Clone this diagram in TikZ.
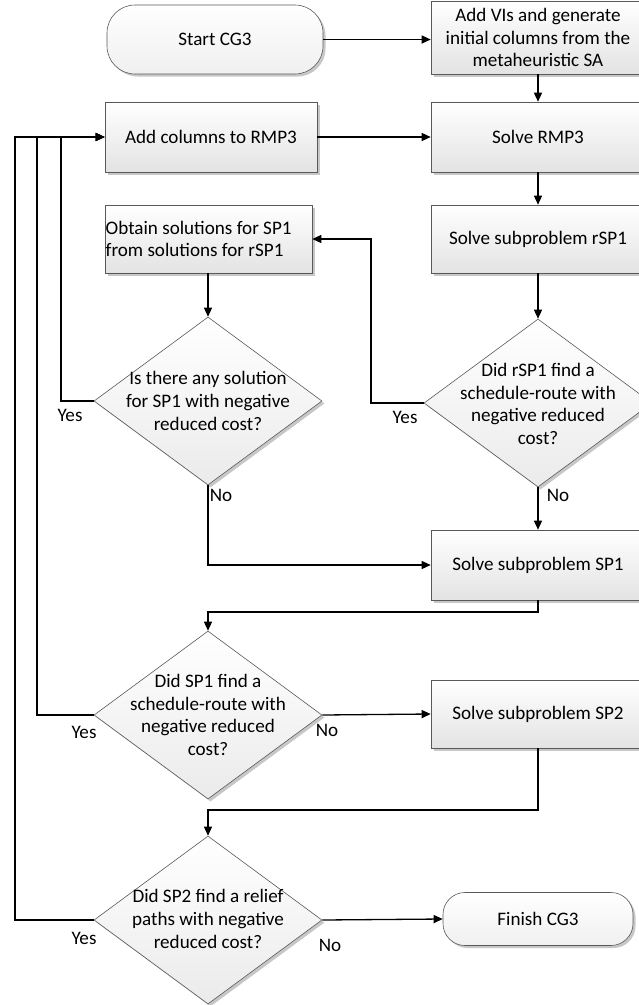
\documentclass[tikz,border=0pt]{standalone}
\usepackage{fontspec}
\setmainfont{Carlito}
\usetikzlibrary{shapes.geometric,arrows.meta,shadows}
\begin{document}
\begin{tikzpicture}[x=1pt,y=-1pt,
  font=\fontsize{19.1}{22.7}\selectfont,
  boxbase/.style={draw=black!65, line width=0.6pt, top color=white, bottom color=black!11,
    drop shadow={shadow xshift=2.5pt,shadow yshift=-2.5pt,opacity=0.22,fill=black}},
  proc/.style={boxbase, minimum width=214pt, minimum height=70pt, align=center, inner sep=1pt},
  term/.style={boxbase, top color=white, bottom color=black!6, minimum width=216pt, minimum height=69pt, rounded corners=28pt, align=center},
  dec/.style={diamond, boxbase, top color=white, bottom color=black!8, minimum width=228pt, minimum height=168pt, inner sep=0pt},
  lbl/.style={align=center, inner sep=0pt},
  arr/.style={line width=1.3pt, -{Triangle[length=9pt,width=8pt]}},
  yn/.style={inner sep=0pt}]
\useasboundingbox (0,0) rectangle (639,1005);
\clip (0,0) rectangle (639,1005);

\node[term] (start) at (215,39.5) {Start CG3};
\node[proc, minimum height=73pt] (addvi) at (538,37.5) {Add VIs and generate\\initial columns from the\\metaheuristic SA};
\node[proc, minimum width=212pt] (addcol) at (211,137) {Add columns to RMP3};
\node[proc] (rmp) at (538,137) {Solve RMP3};
\node[proc, minimum width=207pt, minimum height=68pt] (obtain) at (208.5,239) {};
\node[lbl, anchor=west, align=left] (obtaint) at (105.5,239) {Obtain solutions for SP1\\from solutions for rSP1};
\node[proc, minimum height=68pt] (rsp1) at (538,239) {Solve subproblem rSP1};

\node[dec] (d1) at (208,401) {};
\node[lbl] (d1t) at (208,401) {Is there any solution\\for SP1 with negative\\reduced cost?};
\node[dec] (d2) at (538,403) {};
\node[lbl] (d2t) at (538,404) {Did rSP1 find a\\schedule-route with\\negative reduced\\cost?};

\node[proc] (sp1) at (538,565) {Solve subproblem SP1};
\node[dec] (d3) at (208,715) {};
\node[lbl] (d3t) at (208,715) {Did SP1 find a\\schedule-route with\\negative reduced\\cost?};
\node[proc, minimum height=68pt] (sp2) at (538,714) {Solve subproblem SP2};

\node[dec] (d4) at (208,920) {};
\node[lbl] (d4t) at (208,919) {Did SP2 find a relief\\paths with negative\\reduced cost?};
\node[term, minimum width=190pt, minimum height=53pt, rounded corners=22pt] (fin) at (538,919) {Finish CG3};

\coordinate (l1) at (15,137);
\coordinate (l2) at (37,137);
\coordinate (l3) at (61,137);
\coordinate (k2) at (371,239);
\coordinate (j1) at (208,612);
\coordinate (j2) at (208,810);

\draw[arr] (start.east) -- (start.east -| addvi.west);
\draw[arr] (addvi.south) -- (rmp.north);
\draw[arr] (addcol.east) -- (rmp.west);
\draw[arr] (rmp.south) -- (rsp1.north);
\draw[arr] (rsp1.south) -- (d2.north);
\draw[arr] (d2.west) -| (k2) -- (obtain.east);
\draw[arr] (d1.north |- obtain.south) -- (d1.north);
\draw[arr] (d1.west) -| (l3) -- (addcol.west);
\draw[arr] (d1.south) |- (sp1.west);
\draw[arr] (d2.south) -- (sp1.north);
\draw[arr] (sp1.south) |- (j1) -- (d3.north);
\draw[arr] (d3.east) -- (sp2.west);
\draw[arr] (d3.west) -| (l2) -- (addcol.west);
\draw[arr] (sp2.south) |- (j2) -- (d4.north);
\draw[arr] (d4.east) -- (fin.west);
\draw[arr] (d4.west) -| (l1) -- (addcol.west);

\node[yn] (y1) at (70,415) {Yes};
\node[yn] (n1) at (221,495) {No};
\node[yn] (y2) at (405,417) {Yes};
\node[yn] (n2) at (558,495) {No};
\node[yn] (y3) at (84,732) {Yes};
\node[yn] (n3) at (327,730) {No};
\node[yn] (y4) at (84,938) {Yes};
\node[yn] (n4) at (330,945) {No};
\end{tikzpicture}
\end{document}
